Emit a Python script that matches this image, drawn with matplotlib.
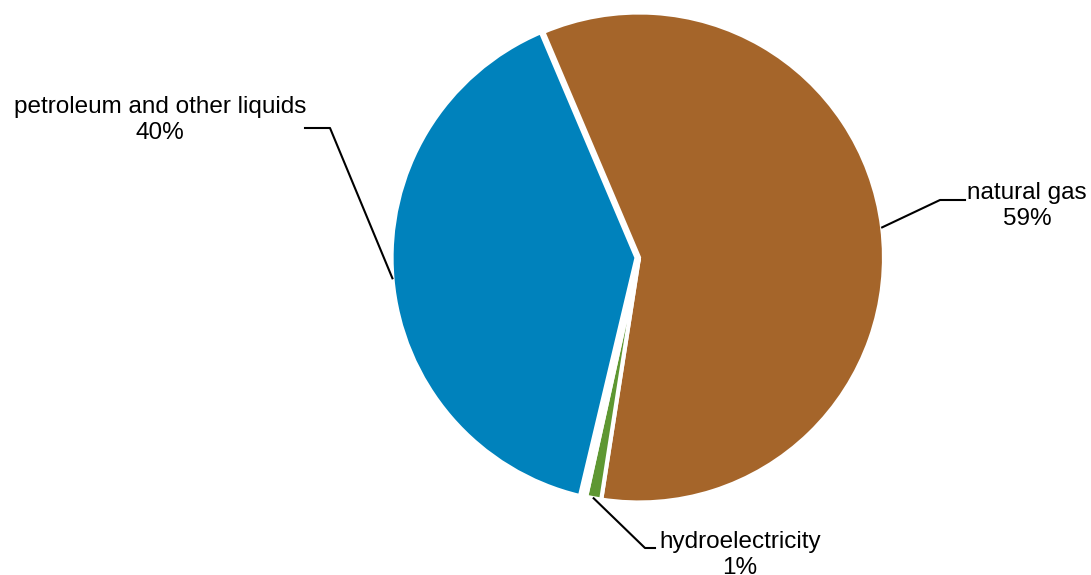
import numpy as np
import matplotlib
matplotlib.use("Agg")
import matplotlib.pyplot as plt
from matplotlib.lines import Line2D

plt.rcParams["font.family"] = ["Liberation Sans", "DejaVu Sans"]

# Share of energy sources
sources = ["natural gas", "hydroelectricity", "other", "petroleum and other liquids"]
shares = [59, 1, 0.25, 40]
colors = ["#A5652A", "#5E9732", "#6B3E1C", "#0082BC"]
label_text = {
    "natural gas": "natural gas\n59%",
    "hydroelectricity": "hydroelectricity\n1%",
    "petroleum and other liquids": "petroleum and other liquids\n40%",
}

W, H = 1091, 575
fig = plt.figure(figsize=(W / 100, H / 100), dpi=100)

cx, cy, r = 639, 257.5, 245  # pixel layout of the pie (top-left origin)
ax = fig.add_axes([(cx - r) / W, (H - cy - r) / H, 2 * r / W, 2 * r / H])

explode = [0, 0, 0, 0.01]
wedges, _ = ax.pie(
    shares, colors=colors, startangle=113, counterclock=False,
    explode=explode, radius=1,
    wedgeprops=dict(edgecolor="white", linewidth=3),
)
ax.set_xlim(-1, 1)
ax.set_ylim(-1, 1)
ax.set_aspect("equal")
ax.axis("off")


def px(x, y):
    """Pixel (top-left origin) to figure fraction."""
    return x / W, (H - y) / H


# Leader lines: elbow and end in pixels, text centre in pixels
leaders = {
    "natural gas": ((940, 200), (965, 200), (1027, 206)),
    "hydroelectricity": ((645, 548), (655, 548), (740, 555)),
    "petroleum and other liquids": ((330, 128), (305, 128), (160, 120)),
}

fig.canvas.draw()
inv = fig.transFigure.inverted()
for w, name in zip(wedges, sources):
    if name not in leaders:
        continue
    mid = np.deg2rad((w.theta1 + w.theta2) / 2)
    cxw, cyw = w.center
    anchor = inv.transform(ax.transData.transform((cxw + np.cos(mid) * w.r,
                                                   cyw + np.sin(mid) * w.r)))
    elbow, end, tpos = leaders[name]
    ex, ey = px(*elbow)
    nx, ny = px(*end)
    fig.add_artist(Line2D([anchor[0], ex, nx], [anchor[1], ey, ny],
                          transform=fig.transFigure, color="black", lw=1.5))
    tx, ty = px(*tpos)
    fig.text(tx, ty, label_text[name], ha="center", va="center",
             fontsize=17.5, linespacing=1.25, color="black")

fig.savefig("out.png", dpi=100, facecolor="white")
